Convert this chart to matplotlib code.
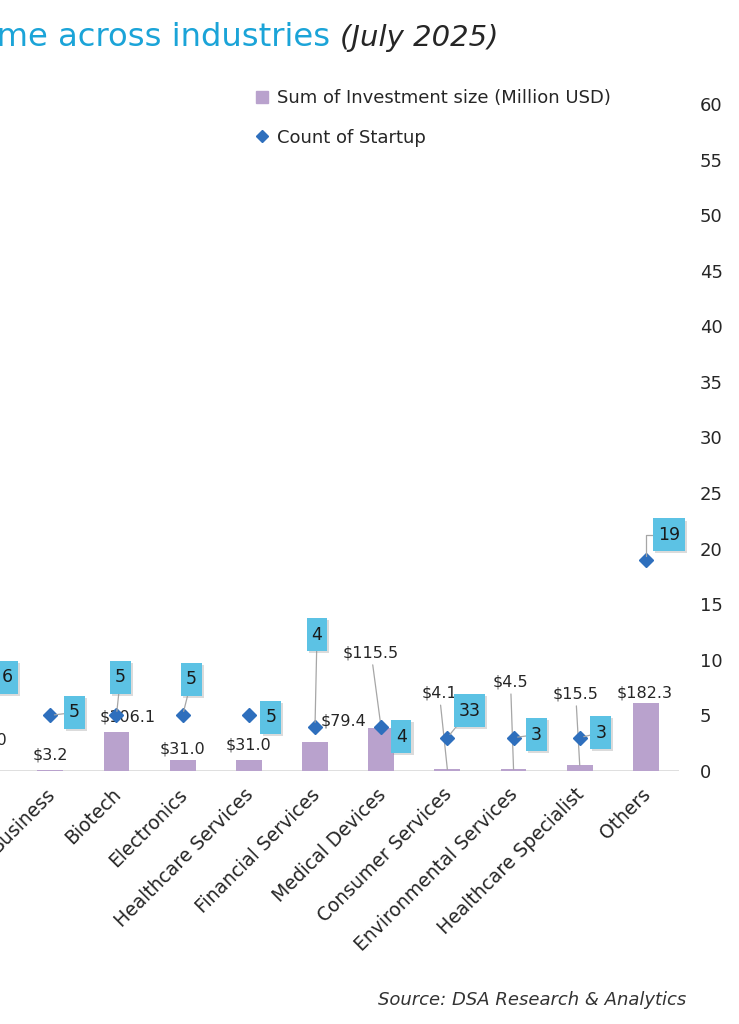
import matplotlib
matplotlib.use("Agg")
import matplotlib.pyplot as plt
from matplotlib.lines import Line2D
from matplotlib.path import Path
import matplotlib.patheffects as pe
import matplotlib.transforms as mtransforms

plt.rcParams['font.family'] = ['DejaVu Sans']

# ---------------- data ----------------
categories = ["Technology", "Business", "Biotech", "Electronics", "Healthcare Services",
              "Financial Services", "Medical Devices", "Consumer Services",
              "Environmental Services", "Healthcare Specialist", "Others"]
investment = [50.0, 3.2, 106.1, 31.0, 31.0, 79.4, 115.5, 4.1, 4.5, 15.5, 182.3]
startups = [6, 5, 5, 5, 5, 4, 4, 3, 3, 3, 19]
startup_labels = ["6", "5", "5", "5", "5", "4", "4", "33", "3", "3", "19"]
right_ticks = list(range(0, 61, 5))

# ---------------- label placement (pixels) ----------------
inv_offsets = [(0, 12.5), (0, 15), (11, 15), (0, 10.5), (0, 14.5), (28, 20.5),
               (-10, 75), (-8, 76), (-3, 87), (-4, 71), (-1, 10.5)]
inv_leader = [False, False, False, False, False, False, True, True, True, True, False]
cnt_offsets = [(23, 27), (24, 3), (4, 38), (9, 36), (22, -2), (2, 92),
               (20, -10), (22, 27), (23, 3), (21, 5), (23, 25)]
cnt_leader = [False, True, True, True, False, True, False, True, True, True, "elbow"]

PX = 0.72  # pixels -> points at 100 dpi
BAR_C = "#b9a2cd"
MARK_C = "#2e6fbd"
BOX_C = "#5cc2e4"
TXT_C = "#262626"
LEAD_C = "#a6a6a6"


def tall_box(x0, y0, width, height, mutation_size):
    px, py = 0.28 * mutation_size, 0.42 * mutation_size
    x0, y0 = x0 - px, y0 - py
    x1, y1 = x0 + width + 2 * px, y0 + height + 2 * py
    return Path([(x0, y0), (x1, y0), (x1, y1), (x0, y1), (x0, y0)], closed=True)


fig = plt.figure(figsize=(7.39, 10.24), dpi=100)
W, H = 739, 1024
ax = fig.add_axes([-49 / W, 1 - 771 / H, 728 / W, (771 - 104) / H])
ax2 = ax.twinx()

x = list(range(len(categories)))
ax.bar(x, investment, width=0.39, color=BAR_C, zorder=2)
ax.set_ylim(0, 1800)
ax.set_xlim(-0.5, len(categories) - 0.5)
ax2.set_ylim(0, 60)

for a in (ax, ax2):
    for s in ("top", "left", "right", "bottom"):
        a.spines[s].set_visible(False)
ax.axhline(0, color="#d9d9d9", lw=1.2, zorder=1)

ax.set_yticks([])
ax.set_xticks(x)
ax.set_xticklabels(categories, rotation=45, ha="right", rotation_mode="anchor",
                   fontsize=13.5, color=TXT_C)
ax.tick_params(axis="x", length=0, pad=10)
shift = mtransforms.ScaledTranslation(-5 / 100, 0, fig.dpi_scale_trans)
for lab in ax.get_xticklabels():
    lab.set_transform(lab.get_transform() + shift)

ax2.set_yticks(right_ticks)
ax2.set_yticklabels([str(t) for t in right_ticks], fontsize=13, color=TXT_C)
ax2.tick_params(axis="y", length=0, pad=15)

ax2.plot(x, startups, linestyle="none", marker="D", ms=7.5, color=MARK_C, zorder=5)

# investment labels
for i, v in enumerate(investment):
    dx, dy = inv_offsets[i]
    kw = {}
    if inv_leader[i]:
        kw["arrowprops"] = dict(arrowstyle="-", color=LEAD_C, lw=0.9, shrinkA=1, shrinkB=0)
    ax.annotate(f"${v:.1f}", xy=(i, v), xytext=(dx * PX, dy * PX), textcoords="offset points",
                ha="center", va="center", fontsize=11.5, color=TXT_C, zorder=6, **kw)

# count labels
for i, c in enumerate(startups):
    dx, dy = cnt_offsets[i]
    kw = {}
    if cnt_leader[i] == "elbow":
        kw["arrowprops"] = dict(arrowstyle="-", color=LEAD_C, lw=0.9, shrinkA=0, shrinkB=3,
                                connectionstyle="angle,angleA=0,angleB=90,rad=0")
    elif cnt_leader[i]:
        kw["arrowprops"] = dict(arrowstyle="-", color=LEAD_C, lw=0.9, shrinkA=0, shrinkB=3)
    t = ax2.annotate(startup_labels[i], xy=(i, c), xytext=(dx * PX, dy * PX),
                     textcoords="offset points", ha="center", va="center",
                     fontsize=12.5, color="#1a1a1a", zorder=7,
                     bbox=dict(boxstyle=tall_box, fc=BOX_C, ec="none"), **kw)
    t.get_bbox_patch().set_path_effects([
        pe.SimplePatchShadow(offset=(1.5, -1.5), shadow_rgbFace="#9a9a9a", alpha=0.35),
        pe.Normal()])

# legend
handles = [Line2D([], [], linestyle="none", marker="s", ms=8.5, color=BAR_C),
           Line2D([], [], linestyle="none", marker="D", ms=6, color=MARK_C)]
fig.legend(handles, ["Sum of Investment size (Million USD)", "Count of Startup"],
           loc="upper left", bbox_to_anchor=(255 / W, 1 - 89 / H), frameon=False,
           fontsize=13, labelcolor=TXT_C, handlelength=0.8, handletextpad=0.4,
           labelspacing=1.2, borderaxespad=0, borderpad=0)

# title (left part cropped)
fig.text(330 / W, 1 - 38 / H, "Investment volume across industries", ha="right", va="center",
         color="#1ba4d8", fontsize=23.2)
fig.text(340 / W, 1 - 38 / H, "(July 2025)", ha="left", va="center",
         color=TXT_C, fontsize=21, style="italic")

fig.text(686 / W, 1 - 1000 / H, "Source: DSA Research & Analytics", ha="right", va="center",
         color="#333333", fontsize=13, style="italic")

fig.savefig("out.png", dpi=100, facecolor="white")
